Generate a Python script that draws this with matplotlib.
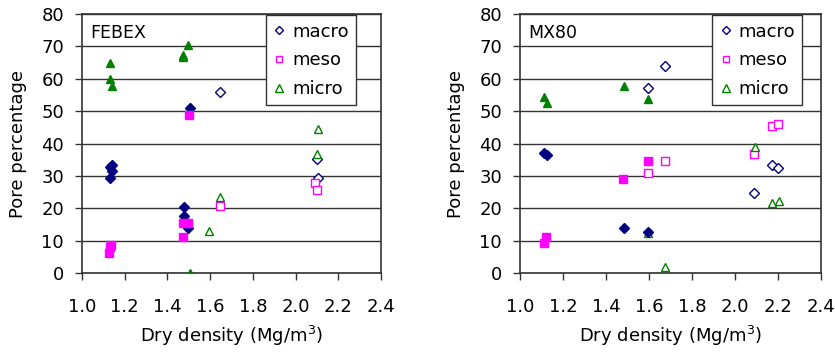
import matplotlib
matplotlib.use("Agg")
import matplotlib.pyplot as plt
from matplotlib.lines import Line2D

# FEBEX, filled symbols
febex_macro_f_x = [1.13, 1.14, 1.14, 1.13, 1.48, 1.48, 1.495, 1.505]
febex_macro_f_y = [29.3, 31.6, 33.4, 32.8, 20.5, 17.6, 14.0, 51.1]
febex_meso_f_x = [1.125, 1.13, 1.135, 1.475, 1.495, 1.475, 1.50]
febex_meso_f_y = [6.1, 8.1, 8.7, 15.5, 15.5, 11.2, 48.8]
febex_micro_f_x = [1.13, 1.13, 1.14, 1.475, 1.475, 1.495, 1.505]
febex_micro_f_y = [64.9, 59.8, 57.8, 67.3, 66.6, 70.4, 0.0]

# FEBEX, open symbols
febex_macro_o_x = [1.645, 2.10, 2.105]
febex_macro_o_y = [56.0, 35.2, 29.2]
febex_meso_o_x = [1.645, 2.09, 2.10]
febex_meso_o_y = [20.7, 27.7, 25.6]
febex_micro_o_x = [1.645, 1.595, 2.105, 2.10]
febex_micro_o_y = [23.4, 13.0, 44.6, 36.9]

# MX80, filled symbols
mx80_macro_f_x = [1.11, 1.125, 1.485, 1.595]
mx80_macro_f_y = [37.0, 36.6, 14.0, 12.6]
mx80_meso_f_x = [1.11, 1.12, 1.48, 1.595]
mx80_meso_f_y = [9.2, 11.0, 29.0, 34.6]
mx80_micro_f_x = [1.11, 1.125, 1.485, 1.595]
mx80_micro_f_y = [54.4, 52.6, 57.7, 53.7]

# MX80, open symbols
mx80_macro_o_x = [1.595, 1.675, 2.09, 2.17, 2.20]
mx80_macro_o_y = [57.0, 64.0, 24.8, 33.5, 32.3]
mx80_meso_o_x = [1.595, 1.675, 2.09, 2.17, 2.20]
mx80_meso_o_y = [30.8, 34.6, 36.9, 45.5, 45.9]
mx80_micro_o_x = [1.595, 1.675, 2.095, 2.17, 2.205]
mx80_micro_o_y = [12.3, 2.0, 39.0, 21.5, 22.2]

x_ticks = [1.0, 1.2, 1.4, 1.6, 1.8, 2.0, 2.2, 2.4]
y_ticks = [0, 10, 20, 30, 40, 50, 60, 70, 80]
labels = ["macro", "meso", "micro"]

NAVY = "#000080"
MAGENTA = "#FF00FF"
GREEN = "#008000"
styles = {"macro": ("D", NAVY, 5), "meso": ("s", MAGENTA, 5.5), "micro": ("^", GREEN, 6)}

plt.rcParams["font.family"] = ["DejaVu Sans"]
FS = 13


def draw_panel(ax, name, filled, opened, leg_x):
    # open symbols first so filled ones sit on top
    for key, (xs, ys) in opened.items():
        m, c, s = styles[key]
        ax.plot(xs, ys, linestyle="none", marker=m, ms=s, mfc="white",
                mec=c, mew=1.0, zorder=3)
    for key, (xs, ys) in filled.items():
        m, c, s = styles[key]
        ax.plot(xs, ys, linestyle="none", marker=m, ms=s, mfc=c,
                mec=c, mew=1.0, zorder=4)

    ax.set_xlim(1.0, 2.4)
    ax.set_ylim(0, 80)
    ax.set_xticks(x_ticks)
    ax.set_xticklabels([f"{v:.1f}" for v in x_ticks], fontsize=FS)
    ax.set_yticks(y_ticks)
    ax.set_yticklabels([str(v) for v in y_ticks], fontsize=FS)
    ax.tick_params(direction="out", length=5, width=1, color="#333333")
    ax.tick_params(axis="x", pad=13)
    ax.tick_params(axis="y", pad=8)
    ax.grid(axis="y", color="#333333", linewidth=1.0)
    ax.set_axisbelow(True)
    for sp in ax.spines.values():
        sp.set_color("#333333")
        sp.set_linewidth(1.2)
    ax.set_xlabel("Dry density (Mg/m$^3$)", fontsize=FS, labelpad=6)
    ax.text(0.027, 0.925, name, transform=ax.transAxes, fontsize=12.5,
            ha="left", va="center")

    handles = []
    for key in labels:
        m, c, s = styles[key]
        handles.append(Line2D([], [], linestyle="none", marker=m, ms=s * 0.9,
                              mfc="white", mec=c, mew=1.0))
    leg = ax.legend(handles, labels, loc="upper left",
                    bbox_to_anchor=(leg_x, 0.995), fontsize=FS,
                    frameon=True, fancybox=False, framealpha=1,
                    edgecolor="#333333", handlelength=0.7, handletextpad=0.35,
                    labelspacing=0.6, borderpad=0.4, borderaxespad=0)
    leg.get_frame().set_linewidth(1.0)


fig = plt.figure(figsize=(8.35, 3.53), dpi=100)
ax1 = fig.add_axes([0.0982, 0.2266, 0.358, 0.7337])
ax2 = fig.add_axes([0.6228, 0.2266, 0.3605, 0.7337])

draw_panel(
    ax1, "FEBEX",
    {"macro": (febex_macro_f_x, febex_macro_f_y),
     "meso": (febex_meso_f_x, febex_meso_f_y),
     "micro": (febex_micro_f_x, febex_micro_f_y)},
    {"macro": (febex_macro_o_x, febex_macro_o_y),
     "meso": (febex_meso_o_x, febex_meso_o_y),
     "micro": (febex_micro_o_x, febex_micro_o_y)},
    0.615,
)
draw_panel(
    ax2, "MX80",
    {"macro": (mx80_macro_f_x, mx80_macro_f_y),
     "meso": (mx80_meso_f_x, mx80_meso_f_y),
     "micro": (mx80_micro_f_x, mx80_micro_f_y)},
    {"macro": (mx80_macro_o_x, mx80_macro_o_y),
     "meso": (mx80_meso_o_x, mx80_meso_o_y),
     "micro": (mx80_micro_o_x, mx80_micro_o_y)},
    0.638,
)
ax1.set_ylabel("Pore percentage", fontsize=FS, labelpad=10)
ax2.set_ylabel("Pore percentage", fontsize=FS, labelpad=10)

fig.savefig("out.png", dpi=100)
